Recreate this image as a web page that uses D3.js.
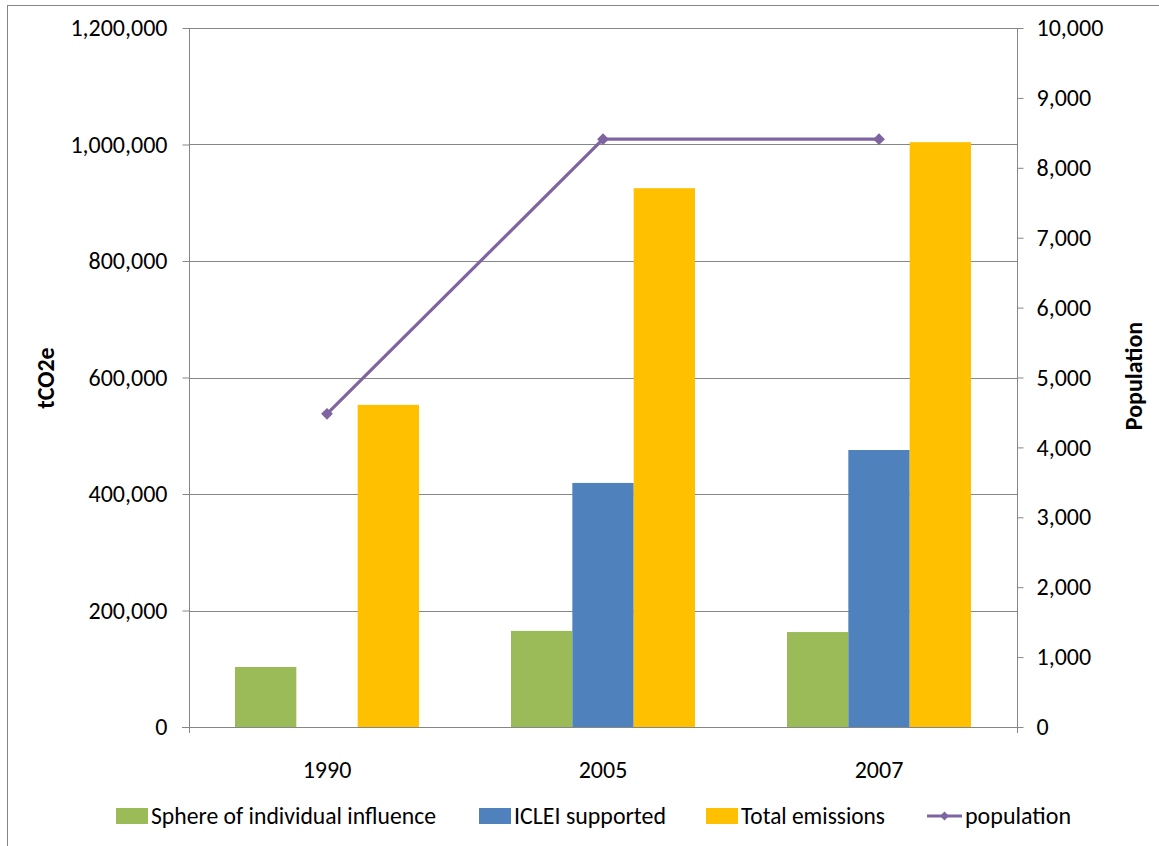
<!DOCTYPE html>
<html>
<head>
<meta charset="utf-8">
<script src="https://cdn.jsdelivr.net/npm/d3@7"></script>
<style>
	body { margin: 0; background: #fff; }
	svg text { font-family: Carlito, Calibri, Lato, "Open Sans", sans-serif; fill: #000; }
	.grid line { stroke: #868686; stroke-width: 1; }
	.axis path, .axis line { stroke: #868686; }
	.axis text { font-size: 24px; }
</style>
</head>
<body>
<div id="chart"></div>
<script>
// data
const years = ['1990', '2005', '2007'];
const sphere = [103000, 165000, 163000];
const iclei = [null, 419000, 475500];
const total = [553000, 925000, 1004000];
const population = [4480, 8410, 8410];

const leftTicks = [0, 200000, 400000, 600000, 800000, 1000000, 1200000];
const rightTicks = [0, 1000, 2000, 3000, 4000, 5000, 6000, 7000, 8000, 9000, 10000];

const seriesNames = ['Sphere of individual influence', 'ICLEI supported', 'Total emissions', 'population'];
const colors = ['#9bbb59', '#4f81bd', '#ffc000', '#8064a2'];

// dimension stuff
const W = 1159;
const H = 846;
const marginLeft = 189;
const marginRight = 142;
const marginTop = 28;
const marginBottom = 119;
const width = W - marginLeft - marginRight;
const height = H - marginTop - marginBottom;

const fmt = d3.format(',');

const $svg = d3.select('#chart').append('svg')
	.attr('width', W)
	.attr('height', H);

// chart frame
$svg.append('rect')
	.attr('x', 7.5).attr('y', 5.5)
	.attr('width', W + 20).attr('height', H + 20)
	.attr('fill', 'none')
	.attr('stroke', '#868686');

const $g = $svg.append('g').attr('transform', `translate(${marginLeft}, ${marginTop})`);

// scales
const scaleX = d3.scaleBand().domain(years).range([0, width]);
const scaleY = d3.scaleLinear().domain([0, 1200000]).range([height, 0]);
const scaleY2 = d3.scaleLinear().domain([0, 10000]).range([height, 0]);

const barW = scaleX.bandwidth() / 4.5;
const scaleSub = d3.scaleBand().domain([0, 1, 2])
	.range([scaleX.bandwidth() / 2 - 1.5 * barW, scaleX.bandwidth() / 2 + 1.5 * barW]);

// gridlines
$g.append('g').attr('class', 'grid')
	.selectAll('line')
	.data(leftTicks.filter(d => d > 0))
	.enter().append('line')
	.attr('x1', 0).attr('x2', width)
	.attr('y1', d => Math.round(scaleY(d)) + 0.5)
	.attr('y2', d => Math.round(scaleY(d)) + 0.5);

// bars
const barSeries = [sphere, iclei, total];
barSeries.forEach((vals, i) => {
	$g.append('g')
		.selectAll('rect')
		.data(vals.map((v, j) => ({ year: years[j], v })).filter(d => d.v != null))
		.enter().append('rect')
		.attr('x', d => scaleX(d.year) + scaleSub(i))
		.attr('width', barW)
		.attr('y', d => scaleY(d.v))
		.attr('height', d => height - scaleY(d.v))
		.attr('fill', colors[i]);
});

// axes
const yAxis = $g.append('g')
	.attr('class', 'axis')
	.attr('transform', 'translate(0.5, 0)')
	.call(d3.axisLeft(scaleY)
		.tickValues(leftTicks)
		.tickSize(7)
		.tickPadding(15)
		.tickFormat(fmt));
yAxis.select('.domain').attr('d', `M0,0V${height + 6}`);

const y2Axis = $g.append('g')
	.attr('class', 'axis')
	.attr('transform', `translate(${width + 0.5}, 0)`)
	.call(d3.axisRight(scaleY2)
		.tickValues(rightTicks)
		.tickSize(6)
		.tickPadding(13)
		.tickFormat(fmt));
y2Axis.select('.domain').attr('d', `M0,0V${height + 6}`);

// x axis baseline and labels
$g.append('line')
	.attr('x1', -7).attr('x2', width + 6)
	.attr('y1', height + 0.5).attr('y2', height + 0.5)
	.attr('stroke', '#868686');

$g.append('g')
	.selectAll('text')
	.data(years)
	.enter().append('text')
	.attr('x', d => scaleX(d) + scaleX.bandwidth() / 2)
	.attr('y', height + 51)
	.attr('text-anchor', 'middle')
	.style('font-size', '24px')
	.text(d => d);

// population line
const line = d3.line()
	.x((d, i) => scaleX(years[i]) + scaleX.bandwidth() / 2)
	.y(d => scaleY2(d));

$g.append('path')
	.datum(population)
	.attr('d', line)
	.attr('fill', 'none')
	.attr('stroke', colors[3])
	.attr('stroke-width', 3.2);

$g.append('g')
	.selectAll('path')
	.data(population)
	.enter().append('path')
	.attr('transform', (d, i) => `translate(${scaleX(years[i]) + scaleX.bandwidth() / 2}, ${scaleY2(d)})`)
	.attr('d', d3.symbol(d3.symbolDiamond2, 60))
	.attr('fill', colors[3])
	.attr('stroke', colors[3])
	.attr('stroke-width', 1.5);

// axis titles
$svg.append('text')
	.attr('transform', `translate(54, ${378}) rotate(-90)`)
	.attr('text-anchor', 'middle')
	.style('font-size', '24px')
	.style('font-weight', 'bold')
	.text('tCO2e');

$svg.append('text')
	.attr('transform', `translate(1142, ${376}) rotate(-90)`)
	.attr('text-anchor', 'middle')
	.style('font-size', '24px')
	.style('font-weight', 'bold')
	.text('Population');

// legend
const legendX = [116, 479, 706, 927];
const legendTextW = [285, 152, 144, 106];
const legendY = 816;
const $legend = $svg.append('g');

seriesNames.forEach((name, i) => {
	const $item = $legend.append('g').attr('transform', `translate(${legendX[i]}, ${legendY})`);
	if (i < 3) {
		$item.append('rect')
			.attr('x', 0).attr('y', -8)
			.attr('width', 32).attr('height', 16)
			.attr('fill', colors[i]);
	} else {
		$item.append('line')
			.attr('x1', 0).attr('x2', 35)
			.attr('stroke', colors[i]).attr('stroke-width', 3.2);
		$item.append('path')
			.attr('transform', 'translate(17.5, 0)')
			.attr('d', d3.symbol(d3.symbolDiamond2, 50))
			.attr('fill', colors[i]);
	}
	$item.append('text')
		.attr('x', i < 3 ? 35 : 38)
		.attr('y', 8)
		.attr('textLength', legendTextW[i])
		.attr('lengthAdjust', 'spacingAndGlyphs')
		.style('font-size', '24px')
		.text(name);
});
</script>
</body>
</html>
